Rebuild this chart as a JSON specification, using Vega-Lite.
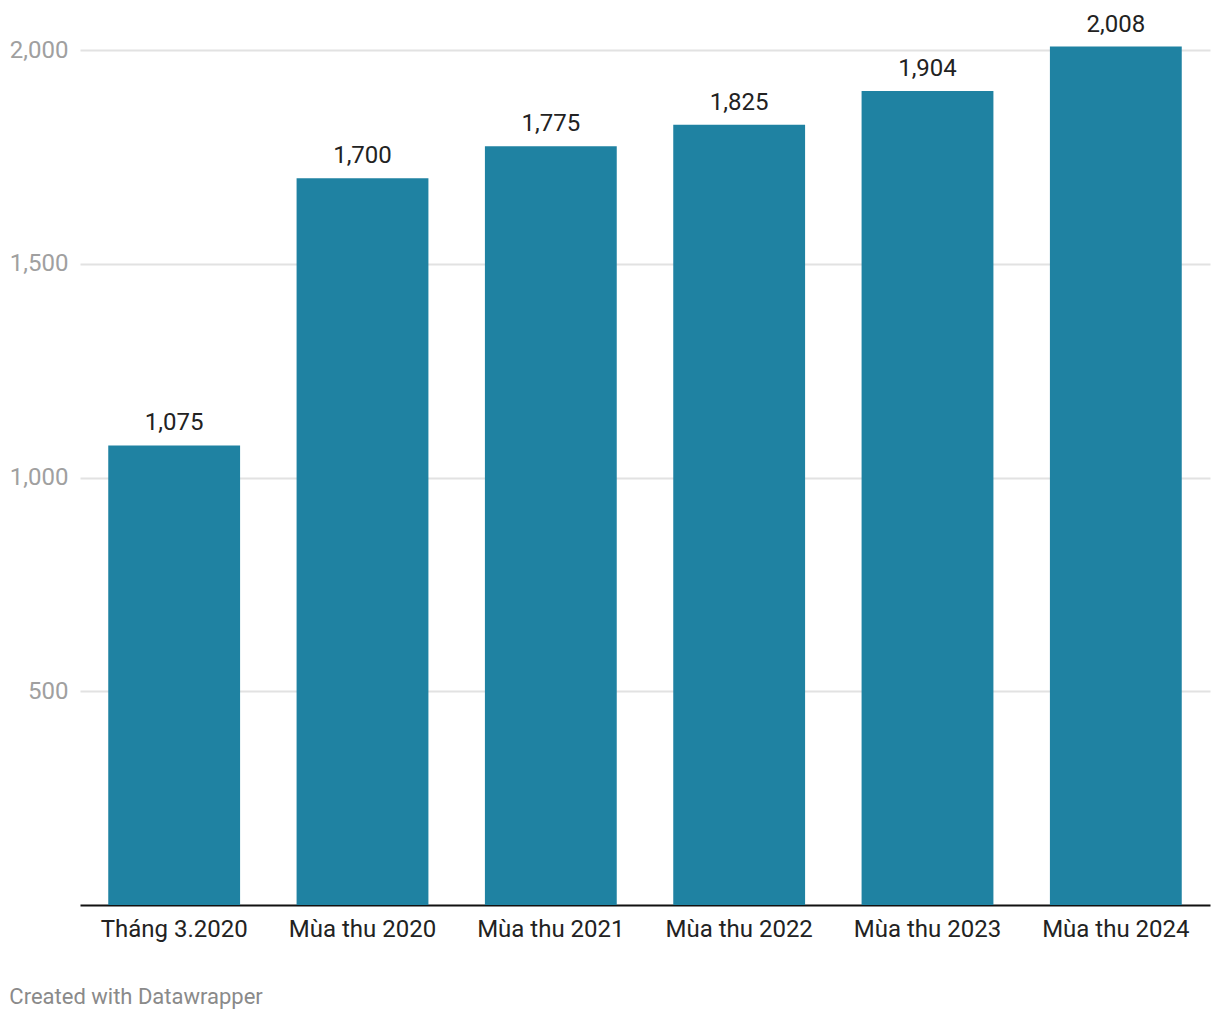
{
  "$schema": "https://vega.github.io/schema/vega-lite/v6.json",
  "width": 1130,
  "height": 855,
  "autosize": {"type": "none"},
  "padding": {"left": 80, "top": 50, "right": 10, "bottom": 115},
  "background": "white",
  "config": {"view": {"stroke": null}, "font": "Roboto"},
  "title": {
    "text": "Created with Datawrapper",
    "orient": "bottom",
    "anchor": "start",
    "dx": 0,
    "offset": 46,
    "fontSize": 22,
    "fontWeight": "normal",
    "color": "#8a8a8a",
    "font": "Roboto"
  },
  "data": {
    "values": [
      {"period": "Tháng 3.2020", "value": 1075},
      {"period": "Mùa thu 2020", "value": 1700},
      {"period": "Mùa thu 2021", "value": 1775},
      {"period": "Mùa thu 2022", "value": 1825},
      {"period": "Mùa thu 2023", "value": 1904},
      {"period": "Mùa thu 2024", "value": 2008}
    ]
  },
  "encoding": {
    "x": {
      "field": "period",
      "type": "nominal",
      "sort": null,
      "scale": {"paddingInner": 0.3, "paddingOuter": 0.15},
      "axis": {
        "title": null,
        "labelAngle": 0,
        "labelFontSize": 24,
        "labelColor": "#222222",
        "labelFont": "Roboto",
        "labelPadding": 12,
        "ticks": false,
        "domainColor": "#111111",
        "domainWidth": 2
      }
    },
    "y": {
      "field": "value",
      "type": "quantitative",
      "scale": {"domain": [0, 2000], "nice": false, "clamp": false},
      "axis": {
        "title": null,
        "values": [500, 1000, 1500, 2000],
        "format": ",.0f",
        "labelFontSize": 24,
        "labelColor": "#a0a0a0",
        "labelFont": "Roboto",
        "labelPadding": 12,
        "ticks": false,
        "domain": false,
        "gridColor": "#e2e2e2",
        "gridWidth": 2
      }
    }
  },
  "layer": [
    {"mark": {"type": "bar", "color": "#1f82a2", "clip": false}},
    {
      "mark": {"type": "text", "dy": -10, "baseline": "bottom", "fontSize": 24, "color": "#222222", "font": "Roboto"},
      "encoding": {"text": {"field": "value", "type": "quantitative", "format": ",.0f"}}
    }
  ]
}
